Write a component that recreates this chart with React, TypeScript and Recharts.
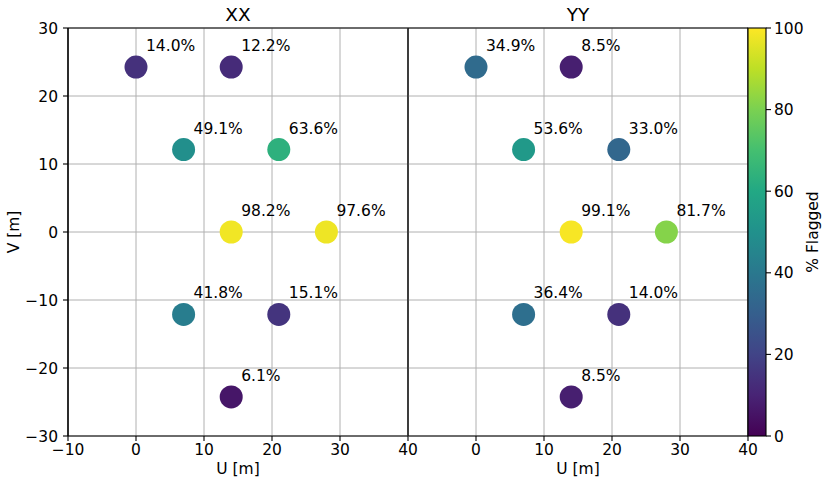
import React from 'react';
import {
  ScatterChart,
  Scatter,
  XAxis,
  YAxis,
  CartesianGrid,
  ReferenceLine,
} from 'recharts';

const uPos = [0, 14, 7, 21, 14, 28, 7, 21, 14];
const vPos = [24.25, 24.25, 12.12, 12.12, 0, 0, -12.12, -12.12, -24.25];
const xxFlagged = [14.0, 12.2, 49.1, 63.6, 98.2, 97.6, 41.8, 15.1, 6.1];
const yyFlagged = [34.9, 8.5, 53.6, 33.0, 99.1, 81.7, 36.4, 14.0, 8.5];
const leftXTicks = [-10, 0, 10, 20, 30, 40];
const rightXTicks = [0, 10, 20, 30, 40];
const yTicks = [-30, -20, -10, 0, 10, 20, 30];
const cbarTicks = [0, 20, 40, 60, 80, 100];
const panelTitles = ['XX', 'YY'];

const FONT = '"DejaVu Sans", sans-serif';

const VIRIDIS = [
  '#440154', '#482475', '#414487', '#355f8d', '#2a788e', '#21918c',
  '#22a884', '#44bf70', '#7ad151', '#bddf26', '#fde725',
];

function hexToRgb(h: string) {
  return [1, 3, 5].map((i) => parseInt(h.slice(i, i + 2), 16));
}
function viridis(pct: number) {
  const t = Math.max(0, Math.min(1, pct / 100)) * (VIRIDIS.length - 1);
  const i = Math.min(VIRIDIS.length - 2, Math.floor(t));
  const f = t - i;
  const a = hexToRgb(VIRIDIS[i]);
  const b = hexToRgb(VIRIDIS[i + 1]);
  const c = a.map((v, k) => Math.round(v + (b[k] - v) * f));
  return `rgb(${c[0]},${c[1]},${c[2]})`;
}

const makeData = (vals: number[]) =>
  uPos.map((u, i) => ({ u, v: vPos[i], pct: vals[i] }));

const xxData = makeData(xxFlagged);
const yyData = makeData(yyFlagged);

const fmt = (v: number) => String(v).replace('-', '\u2212');

const tickStyle = { fill: '#000', fontSize: 15.5, fontFamily: FONT };

const PointShape = (props: any) => {
  const { cx, cy, payload } = props;
  if (cx == null || cy == null) return null;
  return (
    <g>
      <circle cx={cx} cy={cy} r={11.5} fill={viridis(payload.pct)} />
      <text
        x={cx + 10}
        y={cy - 16}
        fontSize={15.5}
        fontFamily={FONT}
        fill="#000"
      >
        {payload.pct.toFixed(1) + '%'}
      </text>
    </g>
  );
};

const W = 830;
const H = 486;

function Panel({
  data,
  left,
  xTicks,
  showY,
}: {
  data: any[];
  left: number;
  xTicks: number[];
  showY: boolean;
}) {
  return (
    <div style={{ position: 'absolute', left: 0, top: 0 }}>
      <ScatterChart
        width={W}
        height={H}
        margin={{ top: 28, right: W - left - 340, bottom: 0, left: showY ? left - 68 : left }}
      >
        <CartesianGrid stroke="#b0b0b0" strokeWidth={1} />
        <XAxis
          type="number"
          dataKey="u"
          domain={[-10, 40]}
          ticks={xTicks}
          interval={0}
          height={50}
          tickFormatter={fmt}
          tick={tickStyle}
          tickSize={5}
          tickMargin={3}
          axisLine={{ stroke: '#000', strokeWidth: 1.1 }}
          tickLine={{ stroke: '#000', strokeWidth: 1.1 }}
        />
        <YAxis
          type="number"
          dataKey="v"
          domain={[-30, 30]}
          ticks={yTicks}
          interval={0}
          width={showY ? 68 : 0}
          hide={!showY}
          tickFormatter={fmt}
          tick={tickStyle}
          tickSize={5}
          tickMargin={5}
          axisLine={{ stroke: '#000', strokeWidth: 1.1 }}
          tickLine={{ stroke: '#000', strokeWidth: 1.1 }}
        />
        <ReferenceLine y={30} stroke="#000" strokeWidth={1.1} />
        <ReferenceLine x={40} stroke="#000" strokeWidth={1.1} />
        <ReferenceLine x={-10} stroke="#000" strokeWidth={1.1} />
        <Scatter data={data} shape={PointShape} isAnimationActive={false} />
      </ScatterChart>
    </div>
  );
}

function Colorbar() {
  const x0 = 748;
  const x1 = 766;
  const y0 = 28;
  const y1 = 436;
  const stops = VIRIDIS.map((c, i) => (
    <stop key={i} offset={`${(i / (VIRIDIS.length - 1)) * 100}%`} stopColor={c} />
  ));
  return (
    <svg
      width={W}
      height={H}
      style={{ position: 'absolute', left: 0, top: 0, pointerEvents: 'none' }}
    >
      <defs>
        <linearGradient id="vir" x1="0" y1="1" x2="0" y2="0">
          {stops}
        </linearGradient>
      </defs>
      <rect x={x0} y={y0} width={x1 - x0} height={y1 - y0} fill="url(#vir)" stroke="#000" strokeWidth={1.1} />
      {cbarTicks.map((t) => {
        const y = y1 - (t / 100) * (y1 - y0);
        return (
          <g key={t}>
            <line x1={x1} x2={x1 + 5} y1={y} y2={y} stroke="#000" strokeWidth={1.1} />
            <text x={x1 + 8} y={y} dy="0.36em" fontSize={15.5} fontFamily={FONT} fill="#000">
              {t}
            </text>
          </g>
        );
      })}
      <text
        x={813}
        y={232}
        transform="rotate(-90 813 232)"
        textAnchor="middle"
        dominantBaseline="central"
        fontSize={15.5}
        fontFamily={FONT}
        fill="#000"
      >
        % Flagged
      </text>
      {panelTitles.map((t, i) => (
        <text
          key={t}
          x={238 + i * 340}
          y={21}
          textAnchor="middle"
          fontSize={18.5}
          fontFamily={FONT}
          fill="#000"
        >
          {t}
        </text>
      ))}
      {[0, 1].map((i) => (
        <text
          key={i}
          x={238 + i * 340}
          y={474}
          textAnchor="middle"
          fontSize={15.5}
          fontFamily={FONT}
          fill="#000"
        >
          U [m]
        </text>
      ))}
      <text
        x={14}
        y={232}
        transform="rotate(-90 14 232)"
        textAnchor="middle"
        dominantBaseline="central"
        fontSize={15.5}
        fontFamily={FONT}
        fill="#000"
      >
        V [m]
      </text>
    </svg>
  );
}

export default function App() {
  return (
    <div style={{ position: 'absolute', left: 0, top: 0, width: W, height: H, background: '#fff' }}>
      <Panel data={xxData} left={68} xTicks={leftXTicks} showY={true} />
      <Panel data={yyData} left={408} xTicks={rightXTicks} showY={false} />
      <Colorbar />
    </div>
  );
}
